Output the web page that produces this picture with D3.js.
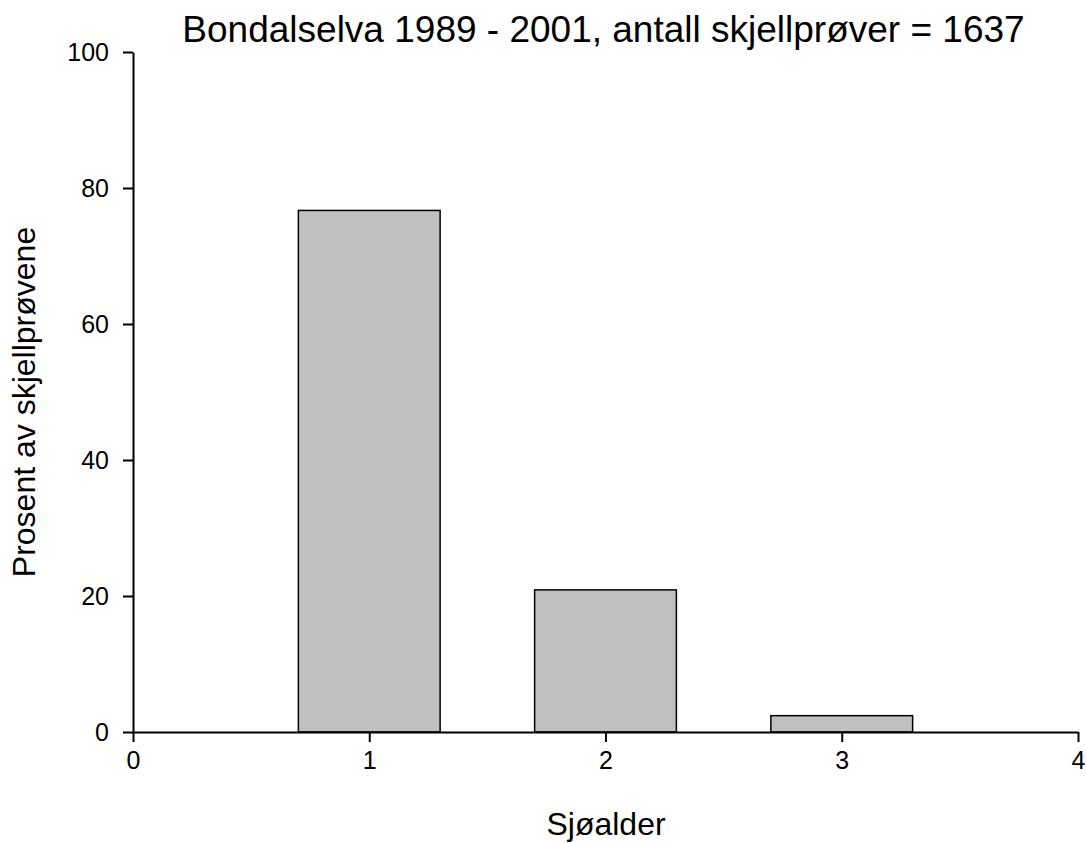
<!DOCTYPE html>
<html>
<head>
<meta charset="utf-8">
<script src="https://cdn.jsdelivr.net/npm/d3@7"></script>
<style>
  html, body { margin: 0; padding: 0; background: #fff; }
  svg { display: block; font-family: "Liberation Sans", Arial, sans-serif; }
</style>
</head>
<body>
<svg id="chart" width="1086" height="843"></svg>
<script>
const categories = [1, 2, 3];
const values = [76.7, 20.9, 2.4];
const xTicks = [0, 1, 2, 3, 4];
const yTicks = [0, 20, 40, 60, 80, 100];
const titleText = "Bondalselva 1989 - 2001, antall skjellprøver = 1637";
const xLabel = "Sjøalder";
const yLabel = "Prosent av skjellprøvene";

(function () {
const svg = d3.select("#chart");
const mLeft = 133, mRight = 1078, mTop = 52, mBottom = 732;

const x = d3.scaleLinear().domain([0, 4]).range([mLeft, mRight]);
const y = d3.scaleLinear().domain([0, 100]).range([mBottom, mTop]);
const barW = 0.6;

// bars
svg.append("g").selectAll("rect").data(categories).join("rect")
  .attr("x", d => x(d - barW / 2))
  .attr("width", d => x(d + barW / 2) - x(d - barW / 2))
  .attr("y", (d, i) => y(values[i]))
  .attr("height", (d, i) => y(0) - y(values[i]))
  .attr("fill", "#c0c0c0")
  .attr("stroke", "#000")
  .attr("stroke-width", 1.5);

// axes
const xAxis = svg.append("g").attr("transform", `translate(0,${mBottom})`)
  .call(d3.axisBottom(x).tickValues(xTicks).tickFormat(d3.format("d")).tickSize(10).tickSizeOuter(0).tickPadding(9));
const yAxis = svg.append("g").attr("transform", `translate(${mLeft},0)`)
  .call(d3.axisLeft(y).tickValues(yTicks).tickFormat(d3.format("d")).tickSize(10).tickSizeOuter(0).tickPadding(14));

[xAxis, yAxis].forEach(g => {
  g.attr("font-family", null).attr("font-size", null);
  g.selectAll("path, line").attr("stroke", "#000").attr("stroke-width", 2);
  g.selectAll("text").attr("fill", "#000").style("font-size", "25px")
    .style("font-family", '"Liberation Sans", Arial, sans-serif');
});

// title
svg.append("text")
  .attr("x", 603.5).attr("y", 42)
  .attr("text-anchor", "middle")
  .style("font-size", "37px")
  .text(titleText);

// x label
svg.append("text")
  .attr("x", 606).attr("y", 835)
  .attr("text-anchor", "middle")
  .style("font-size", "32px")
  .text(xLabel);

// y label
svg.append("text")
  .attr("transform", "translate(35,402) rotate(-90)")
  .attr("text-anchor", "middle")
  .style("font-size", "32px")
  .text(yLabel);
})();
</script>
</body>
</html>
